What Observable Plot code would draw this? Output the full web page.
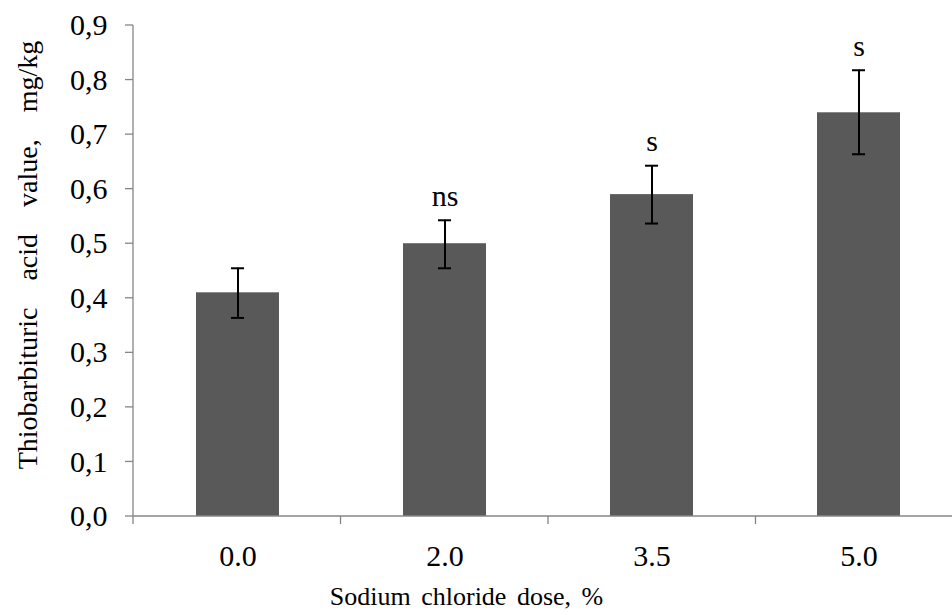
<!DOCTYPE html>
<html><head><meta charset="utf-8">
<script src="https://cdn.jsdelivr.net/npm/d3@7"></script>
<script src="https://cdn.jsdelivr.net/npm/@observablehq/plot@0.6"></script>
<style>body{margin:0;background:#fff}</style>
</head><body><div id="chart"></div>
<script>
const doses = ["0.0", "2.0", "3.5", "5.0"];
const tbaValues = [0.41, 0.50, 0.59, 0.74];
const errLow = [0.364, 0.455, 0.537, 0.664];
const errHigh = [0.455, 0.543, 0.643, 0.818];
const sigLabels = ["", "ns", "s", "s"];
const yTicks = [0, 0.1, 0.2, 0.3, 0.4, 0.5, 0.6, 0.7, 0.8, 0.9];
const yLabel = "Thiobarbituric acid value, mg/kg";
const xLabel = "Sodium chloride dose, %";

const data = doses.map((d, i) => ({dose: d, value: tbaValues[i], lo: errLow[i], hi: errHigh[i], sig: sigLabels[i]}));

const axisColor = "#868686";
const fs = 30;

function axesMark(index, scales, values, dims) {
  const {width, marginLeft, marginRight} = dims;
  const g = d3.create("svg:g").attr("stroke", axisColor).attr("stroke-width", 1.3).attr("fill", "none");
  const y0 = scales.y(0), yTop = scales.y(0.9);
  g.append("line").attr("x1", marginLeft).attr("x2", marginLeft).attr("y1", y0).attr("y2", yTop);
  g.append("line").attr("x1", marginLeft).attr("x2", width - marginRight).attr("y1", y0).attr("y2", y0);
  const n = doses.length, step = (width - marginLeft - marginRight) / n;
  for (let i = 0; i <= n; i++) {
    const x = marginLeft + i * step;
    g.append("line").attr("x1", x).attr("x2", x).attr("y1", y0).attr("y2", y0 + 8);
  }
  for (const t of yTicks) {
    g.append("line").attr("x1", marginLeft - 8).attr("x2", marginLeft).attr("y1", scales.y(t)).attr("y2", scales.y(t));
  }
  return g.node();
}

const chart = Plot.plot({
  width: 952,
  height: 615,
  marginLeft: 133,
  marginRight: -11,
  marginTop: 25,
  marginBottom: 99,
  style: {fontFamily: "'Liberation Serif', 'Times New Roman', serif", fontSize: fs + "px", background: "#fff", color: "#000"},
  x: {domain: doses, paddingInner: 0.6, paddingOuter: 0.3, axis: null},
  y: {domain: [0, 0.9], axis: null},
  marks: [
    Plot.barY(data, {x: "dose", y: "value", fill: "#595959"}),
    Plot.ruleX(data, {x: "dose", y1: "lo", y2: "hi", stroke: "#000", strokeWidth: 2}),
    Plot.tickY(data, {x: "dose", y: "lo", insetLeft: 35, insetRight: 35, stroke: "#000", strokeWidth: 2}),
    Plot.tickY(data, {x: "dose", y: "hi", insetLeft: 35, insetRight: 35, stroke: "#000", strokeWidth: 2}),
    Plot.text(data, {x: "dose", y: "hi", text: "sig", dy: -24, fontSize: fs, fill: "#000"}),
    axesMark,
    Plot.text(yTicks, {y: d => d, text: d => d.toFixed(1).replace(".", ","), frameAnchor: "left", textAnchor: "end", dx: -26, fontSize: fs, fill: "#000"}),
    Plot.text(data, {x: "dose", y: () => 0, text: "dose", dy: 40, fontSize: fs, fill: "#000"}),
    Plot.text([xLabel], {frameAnchor: "bottom", textAnchor: "middle", dx: -82, dy: 88, fontSize: 26, fill: "#000"}),
    Plot.text([yLabel], {frameAnchor: "left", textAnchor: "middle", rotate: -90, dx: -105, dy: -16, fontSize: 28, fill: "#000"})
  ]
});
document.getElementById("chart").appendChild(chart);
d3.select(chart).selectAll("text").filter(function() { return this.textContent === yLabel; }).attr("word-spacing", 20);
d3.select(chart).selectAll("text").filter(function() { return this.textContent === xLabel; }).attr("word-spacing", 4);
</script>
</body></html>
